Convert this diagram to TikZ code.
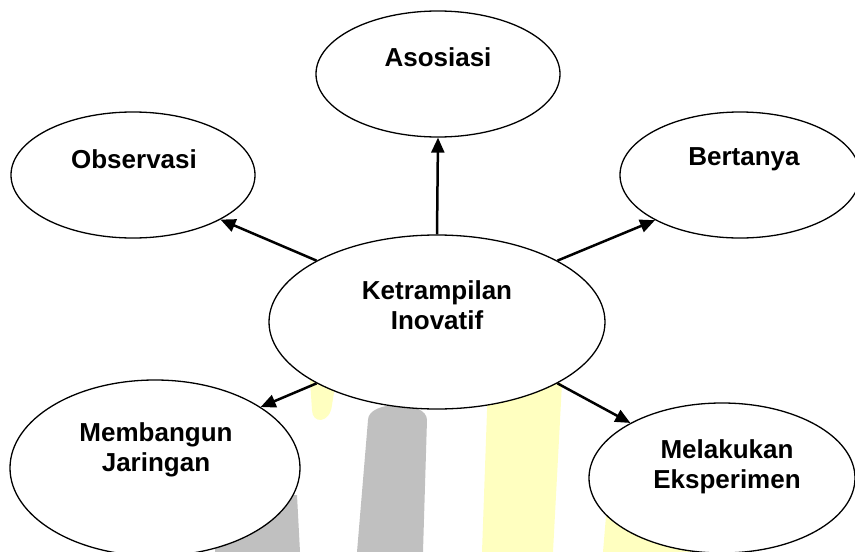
\documentclass[tikz,border=0pt]{standalone}
\usepackage{fontspec}
\setmainfont{Liberation Sans}
\usetikzlibrary{shapes.geometric,arrows.meta}
\definecolor{bandgray}{RGB}{192,192,192}
\definecolor{bandyellow}{RGB}{255,255,192}
\begin{document}
\begin{tikzpicture}[x=1pt,y=-1pt,
  bubble/.style={ellipse,draw=black,line width=1.3pt,fill=white,inner sep=0pt},
  caption/.style={font=\fontsize{26}{30}\selectfont\bfseries,align=center,inner sep=0pt},
  link/.style={line width=2.5pt,-{Triangle[length=15pt,width=13pt]}}]
\useasboundingbox (0,0) rectangle (855,552);
% pale background bands
\fill[bandgray] (368,420) .. controls (368,400) and (427,400) .. (427,420) -- (423,552) -- (357,552) -- cycle;
\fill[bandgray] (215,495) -- (297,495) -- (300,552) -- (215,552) -- cycle;
\fill[bandyellow] (310,380) -- (336,380) -- (332,405) .. controls (330,424) and (312,424) .. (312,410) -- cycle;
\fill[bandyellow] (488,383) -- (562,383) -- (553,552) -- (482,552) -- cycle;
\fill[bandyellow] (606,516) -- (700,516) -- (700,552) -- (603,552) -- cycle;
% bubbles
\node[bubble,minimum width=244pt,minimum height=126pt] (aso) at (438,74) {};
\node[bubble,minimum width=244pt,minimum height=126pt] (obs) at (133,175) {};
\node[bubble,minimum width=240pt,minimum height=126pt] (ber) at (740,175) {};
\node[bubble,minimum width=336pt,minimum height=174pt] (ket) at (437,322) {};
\node[bubble,minimum width=290pt,minimum height=176pt] (mem) at (155,468) {};
\node[bubble,minimum width=266pt,minimum height=150pt] (mel) at (722,478) {};
% captions
\node[caption] (taso) at (438,57) {Asosiasi};
\node[caption] (tobs) at (134,159) {Observasi};
\node[caption] (tber) at (744,159) {Bertanya};
\node[caption] (tket) at (437,305) {Ketrampilan\\Inovatif};
\node[caption] (tmem) at (156,450) {Membangun\\Jaringan};
\node[caption] (tmel) at (727,467) {Melakukan\\Eksperimen};
% connectors
\draw[link] (ket.north) -- (aso.south);
\draw[link] (ket.153) -- (obs.-27);
\draw[link] (ket.27) -- (ber.208);
\draw[link] (ket.207) -- (mem.30);
\draw[link] (ket.-27) -- (mel.149);
\end{tikzpicture}
\end{document}
